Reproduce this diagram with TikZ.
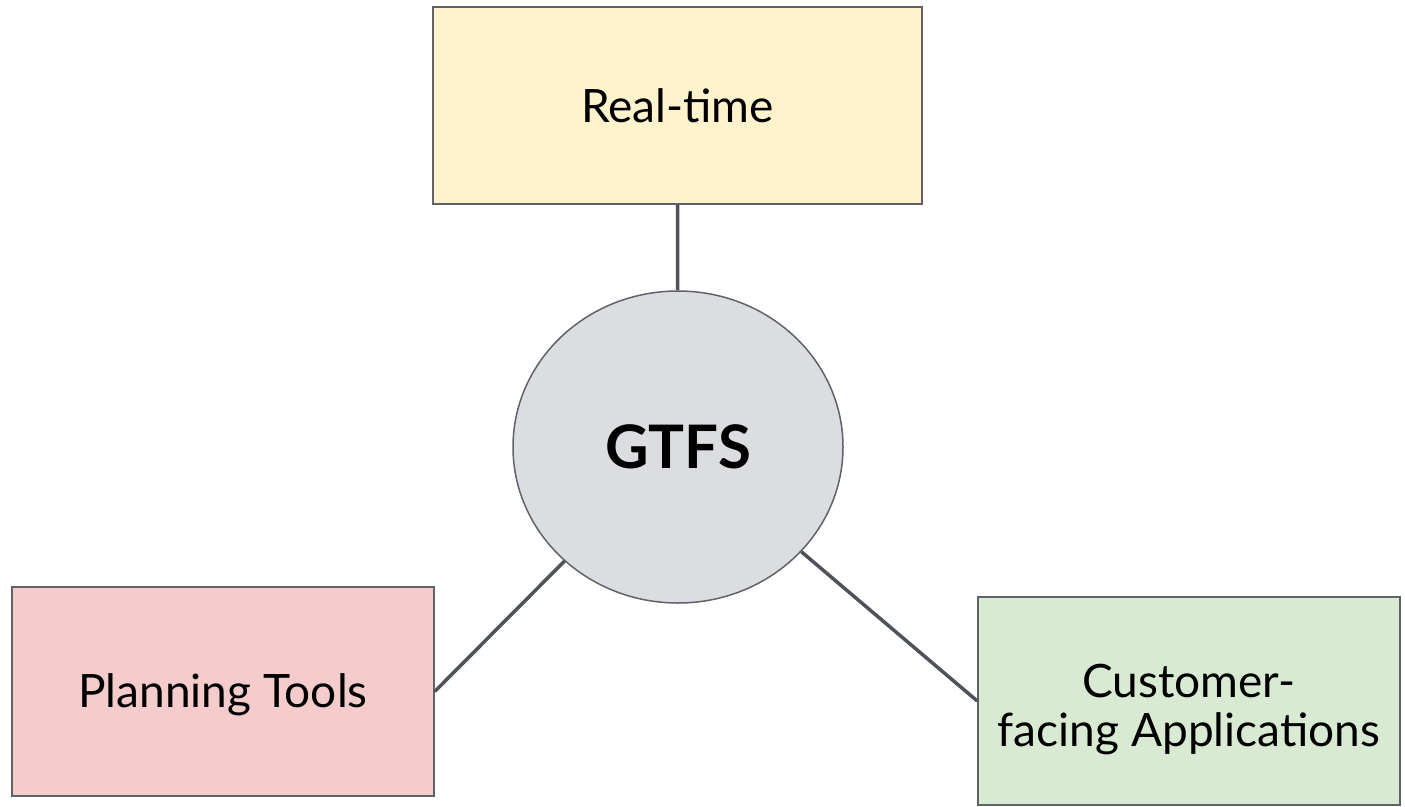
\documentclass[tikz,border=0pt]{standalone}
\usepackage{fontspec}
\setmainfont{Lato}
\usetikzlibrary{shapes.geometric}
\definecolor{edgegray}{HTML}{5F6368}
\definecolor{linkgray}{HTML}{4F5359}
\definecolor{rtfill}{HTML}{FFF2CC}
\definecolor{plfill}{HTML}{F4CCCC}
\definecolor{cufill}{HTML}{D9EAD3}
\definecolor{gtfill}{HTML}{DCDDE0}
\tikzset{
  boxnode/.style={draw=edgegray, line width=1.5pt, rectangle, inner sep=0pt, align=center,
    font=\fontsize{46}{49}\selectfont},
  hubnode/.style={draw=edgegray, line width=1.5pt, ellipse, inner sep=0pt, fill=gtfill,
    minimum width=330pt, minimum height=312pt, font=\fontsize{60}{64}\selectfont\bfseries},
  link/.style={draw=linkgray, line width=3.5pt}
}
\begin{document}
\begin{tikzpicture}[x=1pt,y=-1pt]
\useasboundingbox (0,0) rectangle (1405,806);
\node[boxnode, fill=rtfill, minimum width=489pt, minimum height=197pt] (rt) at (677.5,105.5) {Real-time};
\node[hubnode] (gtfs) at (678,447) {GTFS};
\node[boxnode, fill=plfill, minimum width=422pt, minimum height=209pt] (pl) at (223,691.5) {\rule{0pt}{40pt}Planning Tools};
\node[boxnode, fill=cufill, minimum width=422pt, minimum height=208pt] (cu) at (1189,701) {\rule{0pt}{50pt}Customer-\\facing Applications};
\begin{scope}[on background layer/.try]
\end{scope}
\draw[link] (rt.south) -- (gtfs);
\draw[link] (gtfs) -- (pl.east);
\draw[link] (gtfs) -- (cu.west);
\end{tikzpicture}
\end{document}
